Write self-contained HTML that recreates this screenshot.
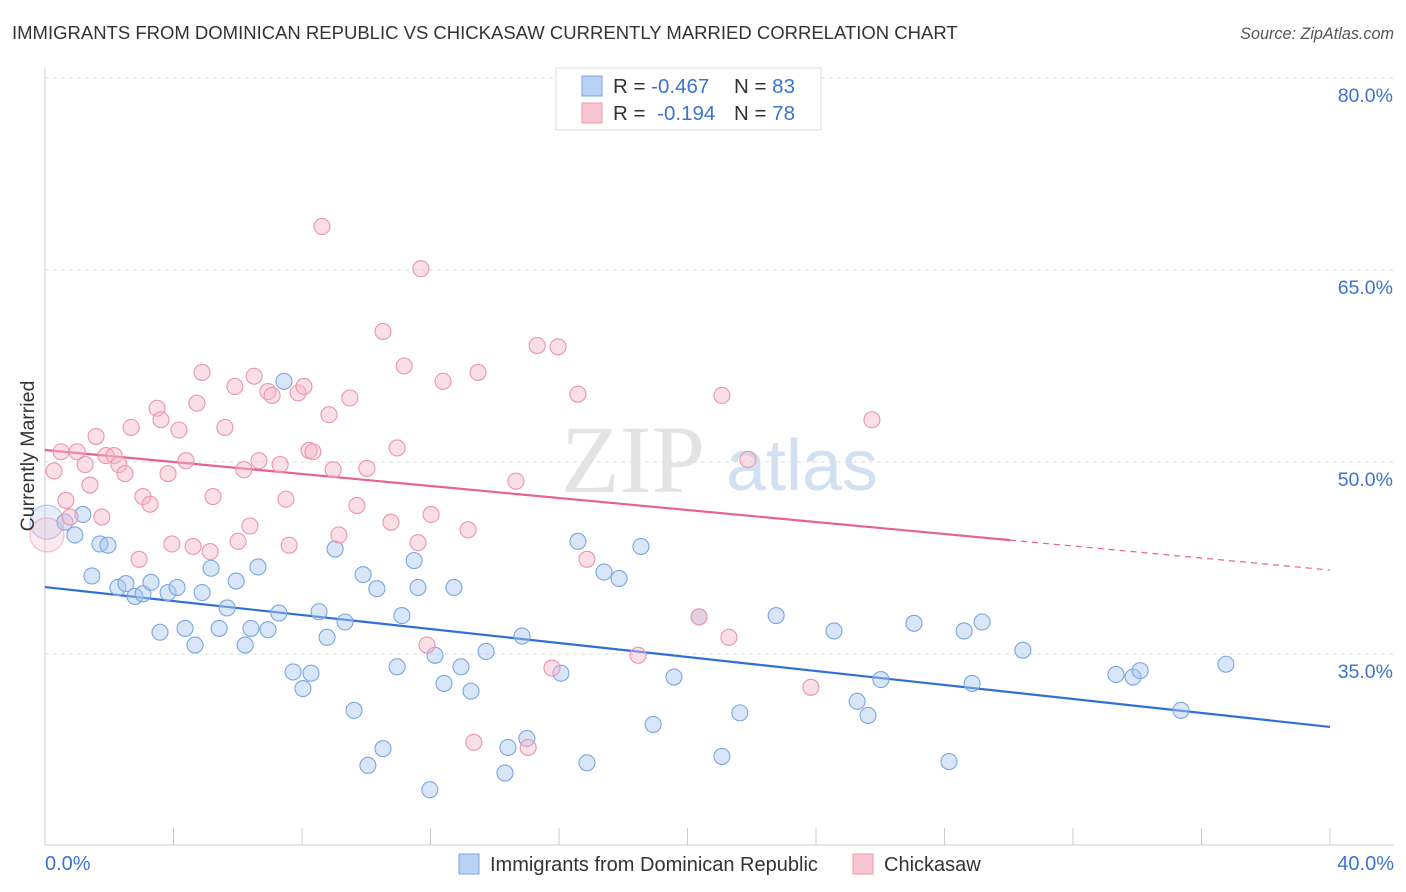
<!DOCTYPE html>
<html><head><meta charset="utf-8">
<style>
body{margin:0;background:#fff;font-family:"Liberation Sans",sans-serif;}
svg{display:block}
</style></head>
<body>
<svg id="chart" width="1406" height="892">
<text x="12" y="39" font-size="18.5" fill="#333">IMMIGRANTS FROM DOMINICAN REPUBLIC VS CHICKASAW CURRENTLY MARRIED CORRELATION CHART</text>
<text x="1394" y="39" font-size="16.2" fill="#555" font-style="italic" text-anchor="end">Source: ZipAtlas.com</text>
<g>
<text x="633" y="492" font-size="96" font-family="Liberation Serif,serif" fill="#ddd" text-anchor="middle" opacity="0.8">ZIP</text>
<text x="802" y="490" font-size="72" fill="#c8d9f0" text-anchor="middle" opacity="0.8">atlas</text>
</g>
<g id="grid"></g>
<g id="axes"></g>
<g id="trends"></g>
<g id="points"></g>
<text transform="translate(34,456) rotate(-90)" font-size="19.5" fill="#333" text-anchor="middle">Currently Married</text>
<g>
<rect x="556" y="68" width="265" height="62" fill="#fff" stroke="#ddd"/>
<rect x="582" y="76" width="20" height="20" fill="#b8d2f4" stroke="#7aa6e0"/>
<rect x="582" y="103" width="20" height="20" fill="#f9c6d4" stroke="#eb9ab2"/>
<text x="613" y="93" font-size="20.5" fill="#333">R = <tspan fill="#3b74d0">-0.467</tspan><tspan x="734">N = </tspan><tspan fill="#3b74d0">83</tspan></text>
<text x="613" y="120" font-size="20.5" fill="#333">R = <tspan fill="#3b74d0" dx="6">-0.194</tspan><tspan x="734">N = </tspan><tspan fill="#3b74d0">78</tspan></text>
</g>
<g>
<rect x="459" y="854" width="20" height="20" fill="#b8d2f4" stroke="#7aa6e0"/>
<text x="490" y="871" font-size="20" fill="#333">Immigrants from Dominican Republic</text>
<rect x="853" y="854" width="20" height="20" fill="#f9c6d4" stroke="#eb9ab2"/>
<text x="884" y="871" font-size="20" fill="#333">Chickasaw</text>
</g>
</svg>
<script>
const yTicks=[35,50,65,80];
const yTickLabels=["35.0%","50.0%","65.0%","80.0%"];
const xEndLabels=["0.0%","40.0%"];
const blueX=[0.06,0.62,0.93,1.18,1.71,1.96,1.46,2.27,2.52,2.80,3.05,3.30,3.58,3.83,4.11,4.36,4.67,4.89,5.17,5.42,5.67,5.95,6.23,6.41,6.63,6.94,7.28,7.44,7.72,8.03,8.28,8.53,8.78,9.03,9.34,9.62,9.90,10.05,10.33,10.52,10.96,11.11,11.49,11.61,11.98,12.14,12.42,12.73,12.95,13.26,13.73,14.32,14.41,14.85,15.00,16.06,16.59,16.87,17.40,17.87,18.55,18.93,19.58,20.36,21.07,21.63,22.76,24.56,25.28,25.62,26.02,27.05,28.14,28.61,28.86,29.17,30.44,33.34,33.87,34.09,35.36,36.76];
const blueY=[45.3,45.3,44.3,45.9,43.6,43.5,41.1,40.2,40.5,39.5,39.7,40.6,36.7,39.8,40.2,37.0,35.7,39.8,41.7,37.0,38.6,40.7,35.7,37.0,41.8,36.9,38.2,56.3,33.6,32.3,33.5,38.3,36.3,43.2,37.5,30.6,41.2,26.3,40.1,27.6,34.0,38.0,42.3,40.2,24.4,34.9,32.7,40.2,34.0,32.1,35.2,25.7,27.7,36.4,28.4,33.5,43.8,26.5,41.4,40.9,43.4,29.5,33.2,37.9,27.0,30.4,38.0,36.8,31.3,30.2,33.0,37.4,26.6,36.8,32.7,37.5,35.3,33.4,33.2,33.7,30.6,34.2];
const pinkX=[0.06,0.28,0.50,0.65,0.78,1.00,1.25,1.40,1.59,1.77,1.90,2.15,2.30,2.49,2.68,2.93,3.05,3.27,3.49,3.61,3.83,3.95,4.17,4.39,4.61,4.73,4.89,5.14,5.23,5.60,5.91,6.01,6.19,6.38,6.51,6.66,6.94,7.07,7.32,7.50,7.60,7.88,8.06,8.22,8.34,8.62,8.84,8.97,9.15,9.49,9.71,10.02,10.52,10.77,10.96,11.18,11.61,11.70,12.02,11.89,12.39,13.17,13.35,13.48,14.66,15.04,15.32,15.78,15.97,16.59,16.87,18.46,20.36,21.07,21.29,21.88,23.84,25.74];
const pinkY=[44.3,49.3,50.8,47.0,45.7,50.8,49.8,48.2,52.0,45.7,50.5,50.5,49.8,49.1,52.7,42.4,47.3,46.7,54.2,53.3,49.1,43.6,52.5,50.1,43.4,54.6,57.0,43.0,47.3,52.7,55.9,43.8,49.4,45.0,56.7,50.1,55.5,55.2,49.8,47.1,43.5,55.4,55.9,50.9,50.8,68.4,53.7,49.4,44.3,55.0,46.6,49.5,60.2,45.3,51.1,57.5,43.7,65.1,45.9,35.7,56.3,44.7,28.1,57.0,48.5,27.7,59.1,33.9,59.0,55.3,42.4,34.9,37.9,55.2,36.3,50.2,32.4,53.3];
const blueTrend=[40.23,29.3];
const pinkTrend=[50.94,41.56];
const pinkSolidEnd=30.04;

const NS="http://www.w3.org/2000/svg";
const X=p=>45+p*32.125;
const Y=v=>462-(v-50)*12.8;
function mk(tag,attrs,parent){const e=document.createElementNS(NS,tag);for(const k in attrs)e.setAttribute(k,attrs[k]);parent.appendChild(e);return e;}
const grid=document.getElementById('grid'),axes=document.getElementById('axes'),trends=document.getElementById('trends'),pts=document.getElementById('points');
yTicks.forEach((t,i)=>{
 const l=mk('line',{x1:45,x2:1394,y1:Y(t),y2:Y(t),stroke:'#ddd','stroke-dasharray':'4,4'},grid);
 
 
 const tx=mk('text',{x:1393,y:Y(t)+24,'font-size':19.5,fill:'#3b74d0','text-anchor':'end'},grid);
 tx.textContent=yTickLabels[i];
 
 
});
const ax=mk('line',{x1:45,x2:1394,y1:845,y2:845,stroke:'#ccc'},axes);


const ay=mk('line',{x1:45,x2:45,y1:68,y2:845,stroke:'#ccc'},axes);


for(let p=0;p<=40;p+=4){
 const t=mk('line',{x1:X(p),x2:X(p),y1:828,y2:845,stroke:'#ccc'},axes);
 
 
}
[[0,'start',xEndLabels[0]],[40,'end',xEndLabels[1]]].forEach(([p,a,s])=>{
 const t=mk('text',{x:p===0?45:1394,y:870,'font-size':20,fill:'#3b74d0','text-anchor':a},axes);
 t.textContent=s;
 
 
});
function drawPts(xs,ys,fill,stroke,name){
 xs.forEach((x,i)=>{
  const c=mk('circle',{cx:X(x),cy:Y(ys[i]),r:i===0?17:8,fill:fill,'fill-opacity':i===0?0.3:0.45,stroke:stroke,'stroke-width':1.1,'stroke-opacity':i===0?0.6:1},pts);
  
  
 });
}
drawPts(blueX,blueY,'#a9c7f0','#7aa6e0','dominican-point');
drawPts(pinkX,pinkY,'#f7b8ca','#eb94ae','chickasaw-point');
const bt=mk('line',{x1:X(0),y1:Y(blueTrend[0]),x2:X(40),y2:Y(blueTrend[1]),stroke:'#2f6fd6','stroke-width':2.2},trends);


const pm=pinkTrend[0]+(pinkTrend[1]-pinkTrend[0])*pinkSolidEnd/40;
const pt=mk('line',{x1:X(0),y1:Y(pinkTrend[0]),x2:X(pinkSolidEnd),y2:Y(pm),stroke:'#e8628e','stroke-width':2.2},trends);


const pd=mk('line',{x1:X(pinkSolidEnd),y1:Y(pm),x2:X(40),y2:Y(pinkTrend[1]),stroke:'#e8628e','stroke-width':1.2,'stroke-dasharray':'6,5'},trends);


</script>
</body></html>
